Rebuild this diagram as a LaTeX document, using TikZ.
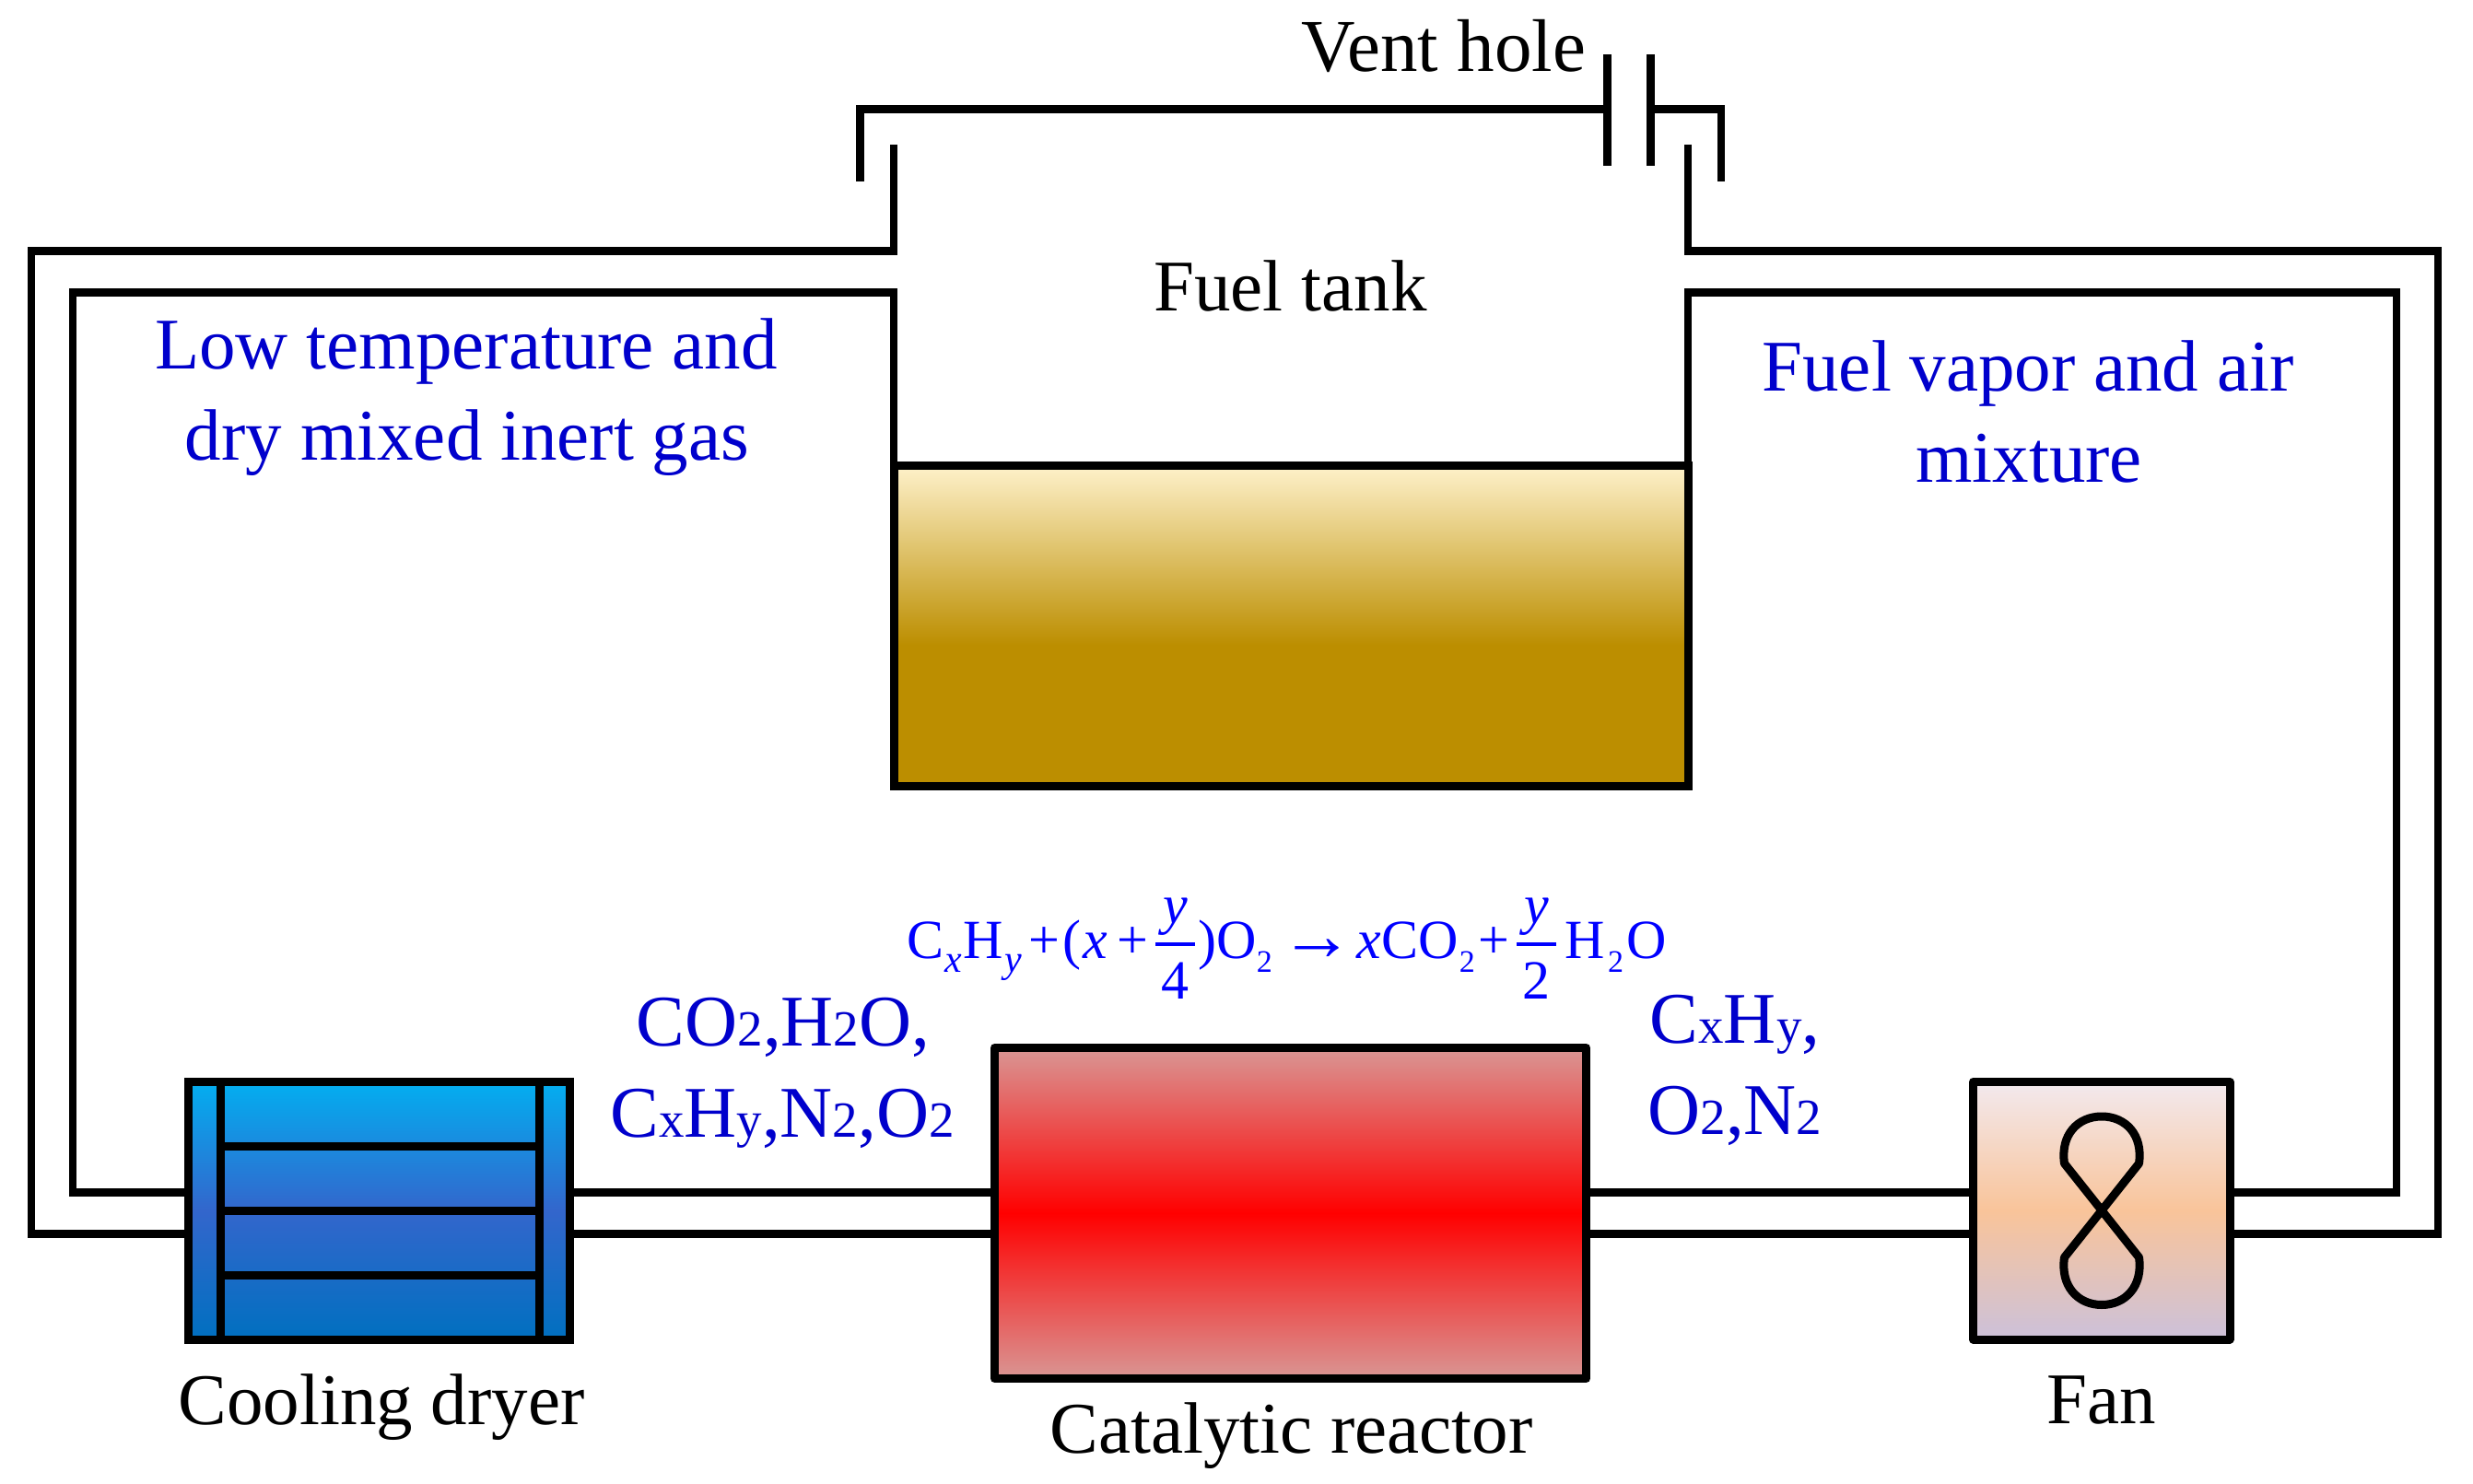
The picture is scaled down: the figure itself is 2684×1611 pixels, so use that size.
\documentclass[tikz,border=0pt]{standalone}
\usepackage{fontspec}
\setmainfont{Liberation Serif}
\definecolor{dryerT}{HTML}{03AEF0}
\definecolor{dryerM}{HTML}{3366CC}
\definecolor{dryerB}{HTML}{0070C0}
\definecolor{reactorE}{HTML}{D99694}
\definecolor{reactorM}{HTML}{FF0000}
\definecolor{fanT}{HTML}{F2E9EE}
\definecolor{fanM}{HTML}{F9C49A}
\definecolor{fanB}{HTML}{CCC1DA}
\definecolor{fuelT}{HTML}{FEF1CA}
\definecolor{fuelB}{HTML}{BC8E00}
\definecolor{labelblue}{HTML}{0000CC}
\definecolor{formulablue}{HTML}{0000FF}
\pgfdeclareverticalshading{dryershade}{100bp}{color(0bp)=(dryerB);color(25bp)=(dryerB);color(50bp)=(dryerM);color(75bp)=(dryerT);color(100bp)=(dryerT)}
\pgfdeclareverticalshading{reactorshade}{100bp}{color(0bp)=(reactorE);color(25bp)=(reactorE);color(50bp)=(reactorM);color(75bp)=(reactorE);color(100bp)=(reactorE)}
\pgfdeclareverticalshading{fanshade}{100bp}{color(0bp)=(fanB);color(25bp)=(fanB);color(50bp)=(fanM);color(75bp)=(fanT);color(100bp)=(fanT)}
\pgfdeclareverticalshading{fuelshade}{100bp}{color(0bp)=(fuelB);color(47bp)=(fuelB);color(75bp)=(fuelT);color(100bp)=(fuelT)}
\newcommand\lsub[1]{{\fontsize{27.5}{27.5}\selectfont #1}}
\newcommand\pc[2]{\rlap{\kern #1pt #2}}
\newcommand\subpc[2]{\rlap{\kern #1pt \raisebox{-7.5pt}{\fontsize{17}{17}\selectfont #2}}}
\newcommand\subit[2]{\rlap{\kern #1pt \raisebox{-7.5pt}{\fontsize{21}{21}\selectfont\textit{#2}}}}
\newcommand\arrowpc[1]{\rlap{\kern #1pt \raisebox{-1.2pt}{\fontsize{40}{40}\selectfont →}}}
\newcommand\fracpc[3]{\rlap{\kern #1pt \rlap{\makebox[21.5pt]{\raisebox{19pt}{#2}}}\rlap{\makebox[21.5pt]{\raisebox{-22pt}{#3}}}\rule[6.6pt]{21.5pt}{2pt}}}
\tikzset{
  x=0.5pt,y=-0.5pt,
  pipe/.style={draw=black,line width=4.2pt,line cap=butt,line join=miter},
  box/.style={draw=black,line width=4.5pt,rectangle,inner sep=0pt,outer sep=0pt},
  inner/.style={draw=black,line width=4.5pt,line cap=butt},
  lab/.style={anchor=base,inner sep=0pt,font=\fontsize{39.5}{48}\selectfont},
  bluelab/.style={lab,text=labelblue},
}
\begin{document}
\begin{tikzpicture}
\useasboundingbox (0,0) rectangle (2684,1611);
% named junctions of the pipes
\coordinate (tlTop) at (970,157);
\coordinate (trTop) at (1832,157);
\coordinate (tlA) at (970,272.5);
\coordinate (tlB) at (970,317.5);
\coordinate (trA) at (1832,272.5);
\coordinate (trB) at (1832,317.5);
\coordinate (lA) at (34,272.5);
\coordinate (lB) at (79,317.5);
\coordinate (lC) at (79,1294.5);
\coordinate (lD) at (34,1339.5);
\coordinate (rA) at (2646,272.5);
\coordinate (rB) at (2601,317.5);
\coordinate (rC) at (2601,1294.5);
\coordinate (rD) at (2646,1339.5);
\coordinate (hatL) at (933.5,197);
\coordinate (hatLc) at (933.5,118.5);
\coordinate (ventL) at (1744.5,118.5);
\coordinate (ventR) at (1791.5,118.5);
\coordinate (hatRc) at (1868,118.5);
\coordinate (hatR) at (1868,197);
\coordinate (ventLt) at (1744.5,59);
\coordinate (ventLb) at (1744.5,180);
\coordinate (ventRt) at (1791.5,59);
\coordinate (ventRb) at (1791.5,180);
\coordinate (fuelL) at (970,600);
\coordinate (fuelR) at (1832,600);
\coordinate (dryerCl) at (420,1294.5);
\coordinate (dryerCd) at (420,1339.5);
\coordinate (fanCl) at (2280,1294.5);
\coordinate (fanCd) at (2280,1339.5);
% pipes
\draw[pipe] (tlTop) -- (tlA) -- (lA) -- (lD) -- (dryerCd);
\draw[pipe] (fuelL) -- (tlB) -- (lB) -- (lC) -- (dryerCl);
\draw[pipe] (trTop) -- (trA) -- (rA) -- (rD) -- (fanCd);
\draw[pipe] (fuelR) -- (trB) -- (rB) -- (rC) -- (fanCl);
% boxes
\node[box,shade,shading=fuelshade,minimum width=431pt,minimum height=174pt] (fuel) at (1401,679.5) {};
\node[box,shade,shading=dryershade,minimum width=207pt,minimum height=140pt] (dryer) at (411.5,1314.5) {};
\node[box,shade,shading=reactorshade,line join=round,minimum width=321pt,minimum height=179.5pt] (reactor) at (1400.5,1317) {};
\node[box,shade,shading=fanshade,line join=round,minimum width=139.25pt,minimum height=139.75pt] (fan) at (2280.75,1314.25) {};
% dryer internals
\coordinate (dv1t) at (239.5,1174.5); \coordinate (dv1b) at (239.5,1454.5);
\coordinate (dv2t) at (585,1174.5); \coordinate (dv2b) at (585,1454.5);
\draw[inner] (dv1t) -- (dv1b);
\draw[inner] (dv2t) -- (dv2b);
\foreach \yy in {1244.5,1314.5,1384.5}{
  \draw[inner] (239.5,\yy) -- (585,\yy);
}
% fan blade
\coordinate (fc) at (2281,1314);
\draw[line width=4.5pt,line join=round] (fc) -- (2321.5,1263)
  .. controls (2326,1232) and (2307,1212) .. (2281,1212)
  .. controls (2255,1212) and (2236,1232) .. (2240.5,1263)
  -- (fc) -- (2321.5,1365)
  .. controls (2326,1396) and (2307,1416.5) .. (2281,1416.5)
  .. controls (2255,1416.5) and (2236,1396) .. (2240.5,1365)
  -- cycle;
% pipes between the boxes
\draw[line width=4.5pt] (dryer.east |- lC) -- (reactor.west |- lC);
\draw[line width=4.5pt] (dryer.east |- lD) -- (reactor.west |- lD);
\draw[line width=4.5pt] (reactor.east |- lC) -- (fan.west |- lC);
\draw[line width=4.5pt] (reactor.east |- lD) -- (fan.west |- lD);
\draw[pipe] (hatL) -- (hatLc) -- (ventL);
\draw[pipe] (ventR) -- (hatRc) -- (hatR);
\draw[pipe] (ventLt) -- (ventLb);
\draw[pipe] (ventRt) -- (ventRb);
% labels
\node[lab,font=\fontsize{40.5}{48}\selectfont] (vent) at (1567,78) {Vent hole};
\node[lab] (tank) at (1400.5,337) {Fuel tank};
\node[lab] (cool) at (414,1546) {Cooling dryer};
\node[lab] (cat) at (1401.5,1577) {Catalytic reactor};
\node[lab] (fanl) at (2281,1545) {Fan};
\node[bluelab] (lt1) at (506,400) {Low temperature and};
\node[bluelab] (lt2) at (507,499) {dry mixed inert gas};
\node[bluelab] (fv1) at (2201,424) {Fuel vapor and air};
\node[bluelab] (fv2) at (2202,523) {mixture};
\node[bluelab] (g1) at (850,1135) {CO\lsub{2},H\lsub{2}O,};
\node[bluelab] (g2) at (849,1234) {C\lsub{x}H\lsub{y},N\lsub{2},O\lsub{2}};
\node[bluelab] (g3) at (1883,1132) {C\lsub{x}H\lsub{y},};
\node[bluelab] (g4) at (1883,1231) {O\lsub{2},N\lsub{2}};
\node[anchor=base west,inner sep=0pt,text=formulablue,font=\fontsize{30}{36}\selectfont] (eq) at (984,1040) {\hbox to 410pt{%
\pc{0}{C}\subit{20.7}{x}\pc{30.3}{H}\subit{53}{y}\pc{66}{+}\pc{84.5}{(}\pc{95.7}{\textit{x}}\pc{114}{+}\fracpc{134.9}{\textit{y}}{4}\pc{157.8}{)}\pc{168}{O}\subpc{189.7}{2}\arrowpc{202.7}\pc{244}{\textit{x}}\pc{257.3}{C}\pc{277.4}{O}\subpc{299.7}{2}\pc{310}{+}\fracpc{331}{\textit{y}}{2}\pc{357}{H}\subpc{380.4}{2}\pc{390.6}{O}\hfil}};
\end{tikzpicture}
\end{document}
